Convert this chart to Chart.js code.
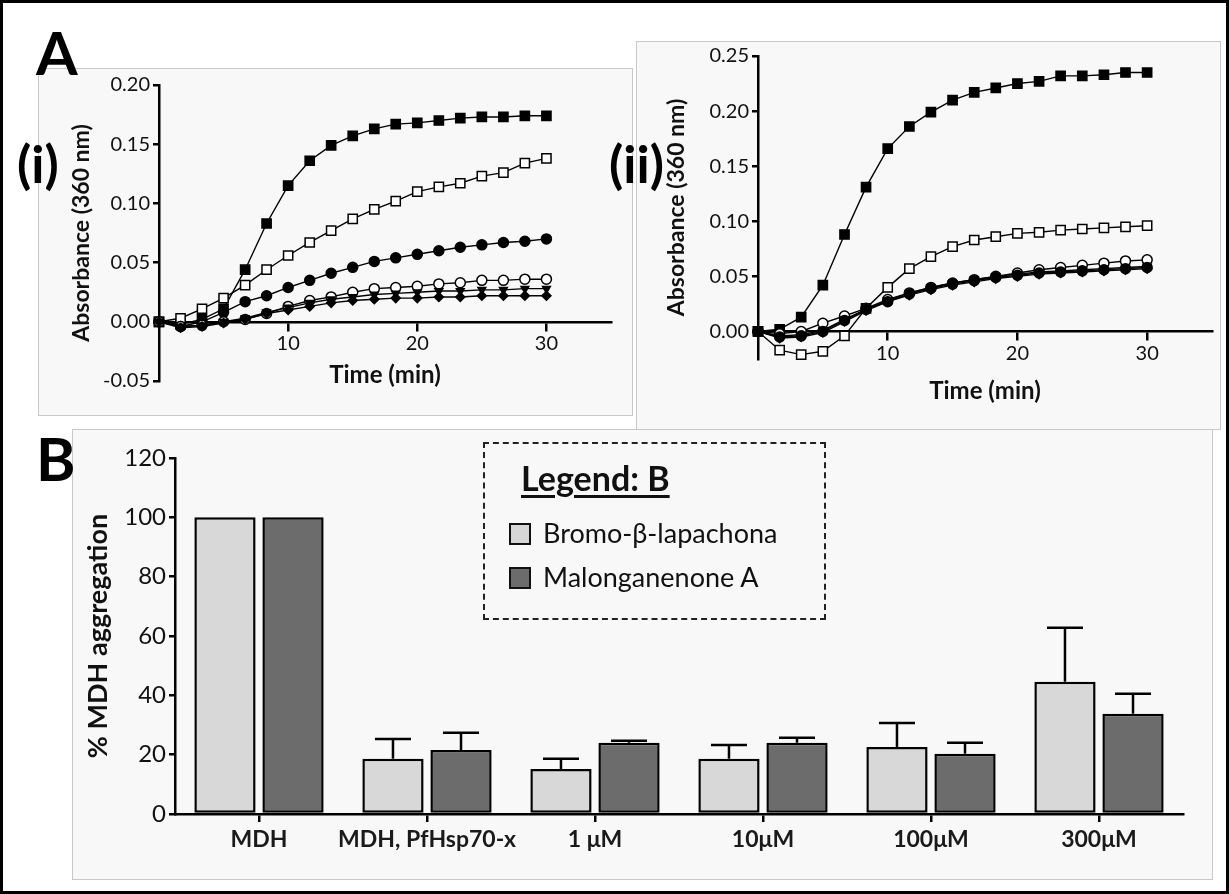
<!DOCTYPE html>
<html>
<head>
<meta charset="utf-8">
<script src="https://cdn.jsdelivr.net/npm/chart.js@4.4.0/dist/chart.umd.min.js"></script>
<style>
  html, body { margin: 0; padding: 0; background: #fff; }
  #page { position: relative; width: 1229px; height: 894px; overflow: hidden; font-family: Lato, "DejaVu Sans", sans-serif; }
  #frame { position: absolute; left: 0; top: 0; width: 1229px; height: 894px; box-sizing: border-box; border: 3px solid #000; pointer-events: none; }
  .panel { position: absolute; box-sizing: border-box; background: #f8f8f8; border: 1px solid #c8c8c8; }
  canvas { position: absolute; }
  .tag { position: absolute; font-weight: 700; color: #000; line-height: 1; white-space: nowrap; }
  #legendB { position: absolute; left: 483px; top: 442px; width: 343px; height: 178px; box-sizing: border-box; border: 2px dashed #222; }
  #legendB .title { position: absolute; left: 36px; top: 13px; font-size: 34px; font-weight: 700; text-decoration: underline; text-underline-offset: 4px; color: #111; }
  #legendB .item { position: absolute; left: 24px; font-size: 27px; color: #111; white-space: nowrap; }
  #legendB .sw { display: inline-block; width: 18px; height: 18px; border: 2px solid #111; vertical-align: -2px; margin-right: 12px; }
</style>
</head>
<body>
<div id="page">
  <div class="panel" style="left:38px; top:68px; width:595px; height:348px;"></div>
  <div class="panel" style="left:636px; top:41px; width:585px; height:389px;"></div>
  <div class="panel" style="left:72px; top:429px; width:1141px; height:451px;"></div>

  <canvas id="chartI" width="594" height="347" style="left:38px; top:68px;"></canvas>
  <canvas id="chartII" width="584" height="388" style="left:636px; top:41px;"></canvas>
  <canvas id="chartB" width="1140" height="450" style="left:72px; top:429px;"></canvas>

  <div class="tag" style="left:36px; top:22px; font-size:60px;">A</div>
  <div class="tag" style="left:17px; top:137px; font-size:52px;">(i)</div>
  <div class="tag" style="left:609px; top:137px; font-size:52px;">(ii)</div>
  <div class="tag" style="left:36px; top:428px; font-size:60px;">B</div>

  <div id="legendB">
    <div class="title">Legend: B</div>
    <div class="item" style="top:72px;"><span class="sw" style="background:#d6d6d6;"></span>Bromo-β-lapachona</div>
    <div class="item" style="top:116px;"><span class="sw" style="background:#6c6c6c;"></span>Malonganenone A</div>
  </div>
  <div id="frame"></div>
</div>

<script>
// sampling times (min), every 100 s over 30 min
const times = [0, 1.67, 3.33, 5, 6.67, 8.33, 10, 11.67, 13.33, 15, 16.67, 18.33, 20, 21.67, 23.33, 25, 26.67, 28.33, 30];

// panel (i) absorbance traces
const i_filledSquare = [0, -0.002, 0.002, 0.011, 0.044, 0.083, 0.115, 0.136, 0.149, 0.157, 0.163, 0.167, 0.168, 0.170, 0.172, 0.173, 0.173, 0.174, 0.174];
const i_openSquare   = [0, 0.003, 0.011, 0.020, 0.031, 0.044, 0.056, 0.067, 0.077, 0.087, 0.095, 0.102, 0.110, 0.114, 0.117, 0.123, 0.126, 0.134, 0.138];
const i_filledCircle = [0, -0.004, 0.000, 0.008, 0.017, 0.022, 0.029, 0.035, 0.041, 0.046, 0.051, 0.054, 0.057, 0.060, 0.063, 0.065, 0.067, 0.068, 0.070];
const i_openCircle   = [0, -0.004, -0.003, 0.000, 0.002, 0.007, 0.013, 0.018, 0.021, 0.025, 0.028, 0.029, 0.030, 0.032, 0.033, 0.035, 0.035, 0.036, 0.036];
const i_triangle     = [0, -0.004, -0.003, 0.000, 0.003, 0.008, 0.012, 0.016, 0.019, 0.021, 0.023, 0.024, 0.025, 0.026, 0.026, 0.027, 0.027, 0.028, 0.028];
const i_diamond      = [0, -0.005, -0.004, -0.001, 0.002, 0.007, 0.010, 0.013, 0.016, 0.018, 0.019, 0.020, 0.020, 0.021, 0.021, 0.022, 0.022, 0.022, 0.022];

// panel (ii) absorbance traces
const ii_filledSquare = [0, 0.002, 0.013, 0.042, 0.088, 0.131, 0.166, 0.186, 0.199, 0.210, 0.217, 0.221, 0.225, 0.227, 0.232, 0.232, 0.233, 0.235, 0.235];
const ii_openSquare   = [0, -0.017, -0.021, -0.018, -0.004, 0.021, 0.040, 0.057, 0.068, 0.077, 0.083, 0.086, 0.089, 0.090, 0.092, 0.093, 0.094, 0.095, 0.096];
const ii_openCircle   = [0, -0.002, 0.000, 0.0075, 0.014, 0.021, 0.029, 0.035, 0.040, 0.044, 0.047, 0.050, 0.053, 0.056, 0.058, 0.060, 0.062, 0.064, 0.065];
const ii_filledCircle = [0, -0.005, -0.004, 0.000, 0.010, 0.020, 0.027, 0.034, 0.039, 0.043, 0.046, 0.049, 0.051, 0.053, 0.054, 0.055, 0.056, 0.057, 0.058];
const ii_triangle     = [0, -0.004, -0.003, 0.001, 0.011, 0.020, 0.028, 0.035, 0.040, 0.044, 0.047, 0.050, 0.052, 0.054, 0.055, 0.056, 0.057, 0.058, 0.059];
const ii_diamond      = [0, -0.006, -0.005, -0.001, 0.009, 0.019, 0.027, 0.033, 0.038, 0.042, 0.045, 0.048, 0.050, 0.052, 0.053, 0.054, 0.055, 0.056, 0.057];

const timeTicks = [10, 20, 30];
const absTicksI = [-0.05, 0, 0.05, 0.10, 0.15, 0.20];
const absTicksII = [0, 0.05, 0.10, 0.15, 0.20, 0.25];

// panel B: % MDH aggregation (mean + SD)
const groups = ['MDH', 'MDH, PfHsp70-x', '1\u00a0\u03bcM', '10\u03bcM', '100\u03bcM', '300\u03bcM'];
const bromoMean = [100, 18.6, 15.2, 18.6, 22.6, 44.6];
const bromoSD   = [0, 6.7, 3.4, 4.7, 8.1, 18.2];
const malonMean = [100, 21.6, 24.0, 24.0, 20.3, 33.8];
const malonSD   = [0, 5.8, 0.7, 1.7, 3.7, 6.7];

Chart.defaults.font.family = 'Lato, "DejaVu Sans", sans-serif';
Chart.defaults.color = '#111';
Chart.defaults.animation = false;
Chart.defaults.plugins.legend.display = false;
Chart.defaults.plugins.tooltip.enabled = false;

function pts(values) {
  return values.map((v, k) => ({ x: times[k], y: v }));
}

function trace(values, style, fill, radius, rotation) {
  return {
    data: pts(values),
    borderColor: '#000',
    borderWidth: 1.4,
    pointStyle: style,
    pointRotation: rotation || 0,
    pointRadius: radius,
    pointBackgroundColor: fill,
    pointBorderColor: '#000',
    pointBorderWidth: 1.5,
    tension: 0,
    clip: false
  };
}

function keepTicks(list) {
  return function (scale) {
    scale.ticks = list.map(v => ({ value: v }));
  };
}

function kineticsOptions(cfg) {
  return {
    responsive: false,
    layout: { padding: cfg.padding },
    scales: {
      x: {
        type: 'linear',
        min: 0, max: 35,
        position: { y: 0 },
        afterBuildTicks: keepTicks(timeTicks),
        border: { color: '#000', width: 2.5 },
        grid: { drawOnChartArea: false, color: '#000', lineWidth: 2.5, tickLength: 8 },
        ticks: { font: { size: 20 }, padding: 2, color: '#111', callback: v => v },
        title: { display: true, text: 'Time (min)', font: { size: 24, weight: 'bold' }, color: '#111', padding: { top: cfg.xTitlePad, bottom: 0 } }
      },
      y: {
        min: cfg.yMin, max: cfg.yMax,
        afterBuildTicks: keepTicks(cfg.yTicks),
        afterFit: s => { s.width = cfg.yWidth; },
        border: { color: '#000', width: 2.5 },
        grid: { drawOnChartArea: false, color: '#000', lineWidth: 2.5, tickLength: 6 },
        ticks: { font: { size: 20 }, padding: 3, color: '#111', callback: v => v.toFixed(2) },
        title: { display: true, text: 'Absorbance (360 nm)', font: { size: 23, weight: 'bold' }, color: '#111', padding: { top: cfg.titlePad, bottom: 0 } }
      }
    }
  };
}

new Chart(document.getElementById('chartI'), {
  type: 'line',
  data: {
    datasets: [
      trace(i_diamond, 'rectRot', '#000', 4.5),
      trace(i_triangle, 'triangle', '#000', 4.5, 180),
      trace(i_openCircle, 'circle', '#fff', 5),
      trace(i_filledCircle, 'circle', '#000', 5),
      trace(i_openSquare, 'rect', '#fff', 6.5),
      trace(i_filledSquare, 'rect', '#000', 6.5)
    ]
  },
  options: kineticsOptions({
    padding: { left: 0, top: 17, right: 21, bottom: 34 },
    yMin: -0.05, yMax: 0.20, yTicks: absTicksI, yWidth: 121, titlePad: 30, xTitlePad: 3
  })
});

new Chart(document.getElementById('chartII'), {
  type: 'line',
  data: {
    datasets: [
      trace(ii_diamond, 'rectRot', '#000', 4.5),
      trace(ii_triangle, 'triangle', '#000', 4.5, 180),
      trace(ii_filledCircle, 'circle', '#000', 5),
      trace(ii_openCircle, 'circle', '#fff', 5),
      trace(ii_openSquare, 'rect', '#fff', 6.5),
      trace(ii_filledSquare, 'rect', '#000', 6.5)
    ]
  },
  options: kineticsOptions({
    padding: { left: 0, top: 14, right: 4, bottom: 70 },
    yMin: -0.025, yMax: 0.25, yTicks: absTicksII, yWidth: 122, titlePad: 27, xTitlePad: 9
  })
});

// upward-only SD whiskers on top of each bar
const sdWhiskers = {
  id: 'sdWhiskers',
  afterDatasetsDraw(chart) {
    const ctx = chart.ctx;
    const y = chart.scales.y;
    chart.data.datasets.forEach((ds, i) => {
      chart.getDatasetMeta(i).data.forEach((bar, j) => {
        const sd = ds.sd[j];
        if (!sd) return;
        const top = y.getPixelForValue(ds.data[j] + sd);
        ctx.save();
        ctx.strokeStyle = '#000';
        ctx.lineWidth = 2.5;
        ctx.beginPath();
        ctx.moveTo(bar.x, bar.y);
        ctx.lineTo(bar.x, top);
        ctx.moveTo(bar.x - 18, top);
        ctx.lineTo(bar.x + 18, top);
        ctx.stroke();
        ctx.restore();
      });
    });
  }
};

new Chart(document.getElementById('chartB'), {
  type: 'bar',
  data: {
    labels: groups,
    datasets: [
      { label: 'Bromo-β-lapachona', data: bromoMean, sd: bromoSD, backgroundColor: '#d8d8d8', borderColor: '#000', borderWidth: 2.5, borderSkipped: false, categoryPercentage: 0.81, barPercentage: 0.9 },
      { label: 'Malonganenone A', data: malonMean, sd: malonSD, backgroundColor: '#6c6c6c', borderColor: '#000', borderWidth: 2.5, borderSkipped: false, categoryPercentage: 0.81, barPercentage: 0.9 }
    ]
  },
  options: {
    responsive: false,
    layout: { padding: { left: 0, top: 29, right: 29, bottom: 0 } },
    scales: {
      x: {
        offset: true,
        afterFit: s => { s.height = 65; },
        border: { color: '#000', width: 2.5 },
        grid: { offset: false, drawOnChartArea: false, color: '#000', lineWidth: 2.5, tickLength: 8 },
        ticks: { font: { size: 23, weight: 'bold' }, padding: 4, color: '#1a1a1a', maxRotation: 0, autoSkip: false }
      },
      y: {
        min: 0, max: 120,
        afterFit: s => { s.width = 103; },
        border: { color: '#000', width: 2.5 },
        grid: { drawOnChartArea: false, color: '#000', lineWidth: 2.5, tickLength: 6 },
        ticks: { stepSize: 20, font: { size: 24 }, padding: 3, color: '#111' },
        title: { display: true, text: '% MDH aggregation', font: { size: 27, weight: 'bold' }, color: '#111', padding: { top: 10, bottom: 0 } }
      }
    }
  },
  plugins: [sdWhiskers]
});
</script>
</body>
</html>
